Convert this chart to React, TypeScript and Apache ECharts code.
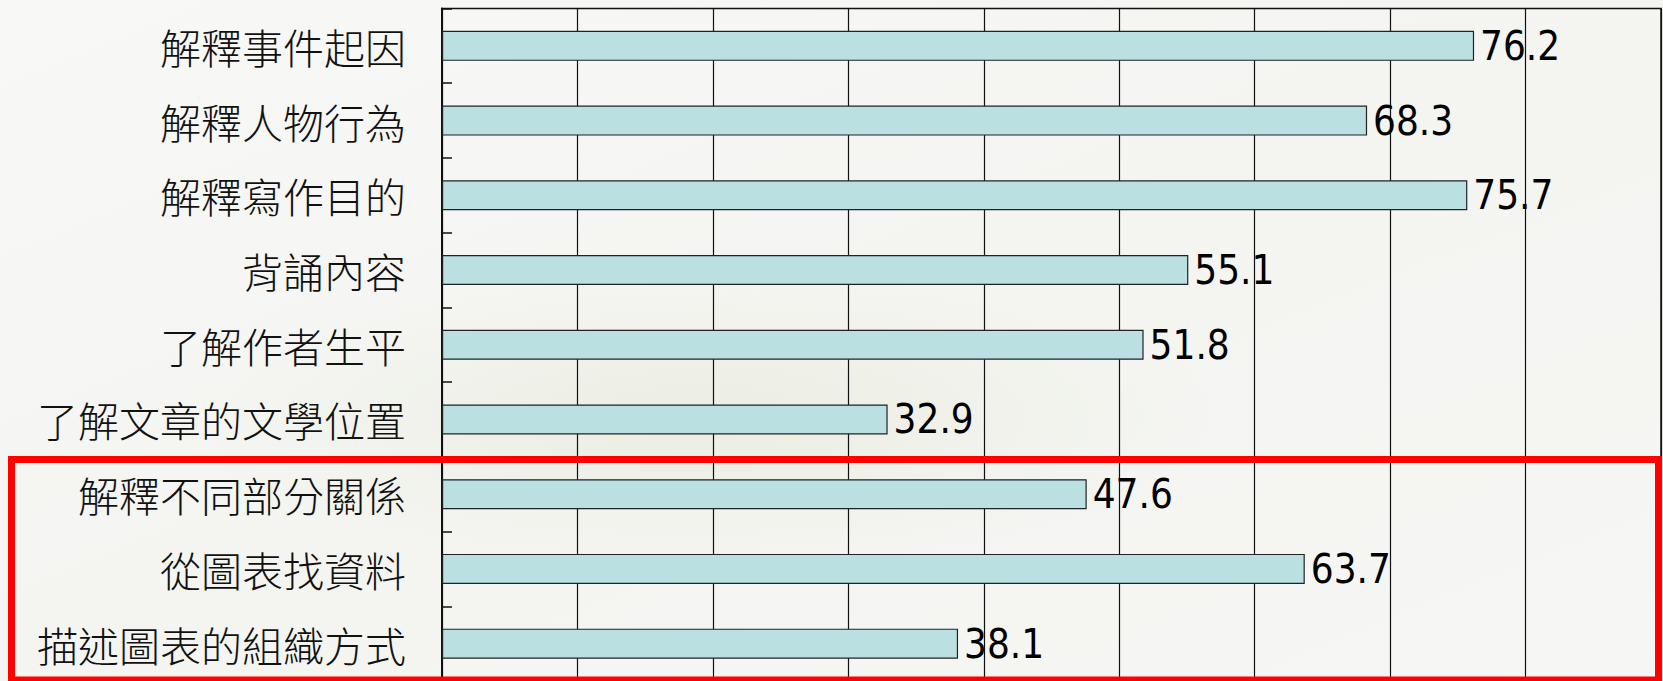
import React, { useEffect, useRef } from "react";
import * as echarts from "echarts";

const categories = [
  "解釋事件起因",
  "解釋人物行為",
  "解釋寫作目的",
  "背誦內容",
  "了解作者生平",
  "了解文章的文學位置",
  "解釋不同部分關係",
  "從圖表找資料",
  "描述圖表的組織方式",
];
const values = [76.2, 68.3, 75.7, 55.1, 51.8, 32.9, 47.6, 63.7, 38.1];
const axisMin = 0;
const axisMax = 90;
const axisStep = 10;

export default function App() {
  const ref = useRef<HTMLDivElement>(null);
  useEffect(() => {
    document.body.style.margin = "0";
    const chart = echarts.init(ref.current!, null, { renderer: "svg" });
    chart.setOption({
      animation: false,
      backgroundColor: {
        type: "linear",
        x: 0,
        y: 0,
        x2: 1,
        y2: 1,
        colorStops: [
          { offset: 0, color: "#f8f8f7" },
          { offset: 0.5, color: "#f4f5f1" },
          { offset: 1, color: "#f6f6f4" },
        ],
      },
      grid: {
        left: 442,
        top: 8.5,
        width: 1219,
        height: 676,
        show: true,
        borderColor: "#111",
        borderWidth: 1.5,
        backgroundColor: "transparent",
      },
      xAxis: {
        type: "value",
        min: axisMin,
        max: axisMax,
        interval: axisStep,
        axisLine: { show: false },
        axisTick: { show: false },
        axisLabel: { show: false },
        splitLine: { show: true, lineStyle: { color: "#111", width: 1.2 } },
      },
      yAxis: {
        type: "category",
        data: categories,
        inverse: true,
        axisLine: { show: true, lineStyle: { color: "#111", width: 2 } },
        axisTick: { show: true, inside: true, length: 10, lineStyle: { color: "#111", width: 1.5 } },
        axisLabel: {
          margin: 36,
          color: "#111",
          fontSize: 41,
          fontFamily: "'Noto Sans CJK TC', 'Noto Sans CJK SC', sans-serif",
          fontWeight: 300,
        },
        splitLine: { show: false },
      },
      series: [
        {
          type: "bar",
          data: values,
          barWidth: 30,
          itemStyle: { color: "#bae0e2", borderColor: "#222", borderWidth: 1.2 },
          label: {
            show: true,
            position: "right",
            distance: 6,
            color: "#000",
            fontSize: 40,
            fontFamily: "'DejaVu Sans Condensed', 'Liberation Sans Narrow', sans-serif",
            formatter: (p: any) => p.value.toFixed(1),
          },
        },
      ],
      graphic: [
        {
          type: "ellipse",
          shape: { cx: 700, cy: 420, rx: 520, ry: 150 },
          style: {
            fill: {
              type: "radial",
              x: 0.5,
              y: 0.5,
              r: 0.5,
              colorStops: [
                { offset: 0, color: "rgba(205,212,175,0.22)" },
                { offset: 1, color: "rgba(205,212,175,0)" },
              ],
            },
          },
          z: -10,
          silent: true,
        },
        {
          type: "rect",
          shape: { x: 11.5, y: 459.5, width: 1647, height: 220.5 },
          style: { fill: "none", stroke: "#ff0000", lineWidth: 7 },
          z: 100,
        },
      ],
    });
    return () => chart.dispose();
  }, []);
  return (
    <div
      ref={ref}
      style={{ position: "fixed", left: 0, top: 0, width: 1663, height: 681 }}
    />
  );
}
